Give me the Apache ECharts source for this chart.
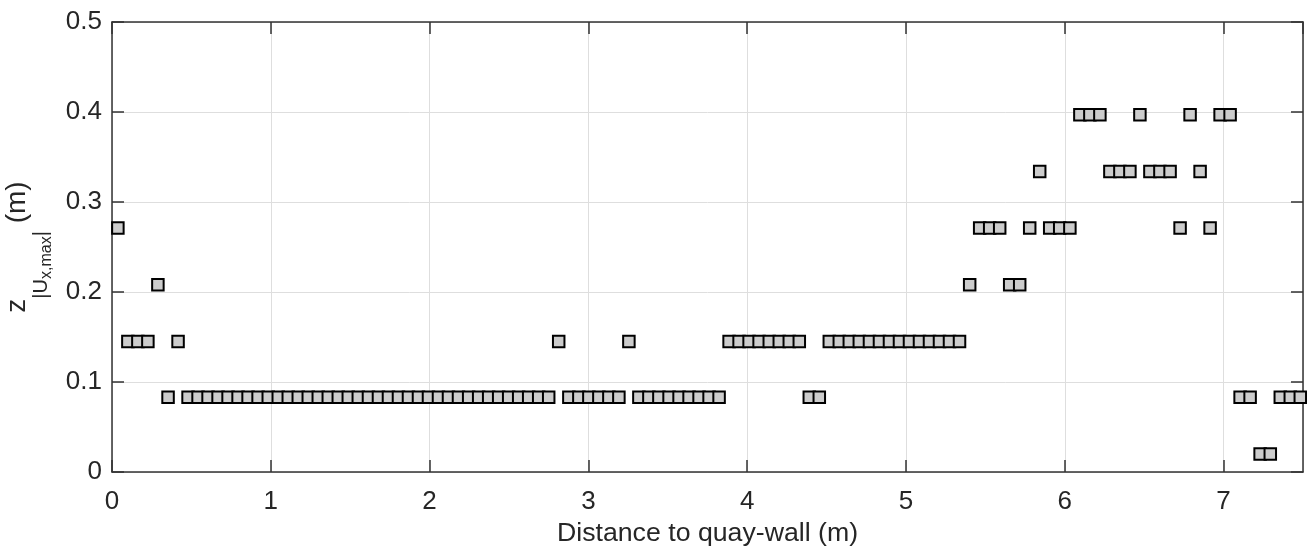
<!DOCTYPE html>
<html>
<head>
<meta charset="utf-8">
<script src="https://cdn.jsdelivr.net/npm/echarts@6/dist/echarts.min.js"></script>
<style>
html,body{margin:0;padding:0;background:#ffffff;}
#chart{width:1307px;height:550px;}
</style>
</head>
<body>
<div id="chart"></div>
<script>
// Distance to quay-wall (m) of each measurement position
const distance = [
  0.037, 0.100, 0.163, 0.226, 0.289, 0.353, 0.416, 0.479, 0.542, 0.605,
  0.668, 0.731, 0.794, 0.857, 0.920, 0.984, 1.047, 1.110, 1.173, 1.236,
  1.299, 1.362, 1.425, 1.488, 1.551, 1.615, 1.678, 1.741, 1.804, 1.867,
  1.930, 1.993, 2.056, 2.119, 2.182, 2.246, 2.309, 2.372, 2.435, 2.498,
  2.561, 2.624, 2.687, 2.750, 2.813, 2.877, 2.940, 3.003, 3.066, 3.129,
  3.192, 3.255, 3.318, 3.381, 3.444, 3.508, 3.571, 3.634, 3.697, 3.760,
  3.823, 3.886, 3.949, 4.012, 4.075, 4.139, 4.202, 4.265, 4.328, 4.391,
  4.454, 4.517, 4.580, 4.643, 4.706, 4.770, 4.833, 4.896, 4.959, 5.022,
  5.085, 5.148, 5.211, 5.274, 5.337, 5.401, 5.464, 5.527, 5.590, 5.653,
  5.716, 5.779, 5.842, 5.905, 5.968, 6.032, 6.095, 6.158, 6.221, 6.284,
  6.347, 6.410, 6.473, 6.536, 6.599, 6.663, 6.726, 6.789, 6.852, 6.915,
  6.978, 7.041, 7.104, 7.167, 7.230, 7.294, 7.357, 7.420, 7.483
];

// Elevation of the maximum |Ux| (m) at each position
const zUxMax = [
  0.271, 0.145, 0.145, 0.145, 0.208, 0.083, 0.145, 0.083, 0.083, 0.083,
  0.083, 0.083, 0.083, 0.083, 0.083, 0.083, 0.083, 0.083, 0.083, 0.083,
  0.083, 0.083, 0.083, 0.083, 0.083, 0.083, 0.083, 0.083, 0.083, 0.083,
  0.083, 0.083, 0.083, 0.083, 0.083, 0.083, 0.083, 0.083, 0.083, 0.083,
  0.083, 0.083, 0.083, 0.083, 0.145, 0.083, 0.083, 0.083, 0.083, 0.083,
  0.083, 0.145, 0.083, 0.083, 0.083, 0.083, 0.083, 0.083, 0.083, 0.083,
  0.083, 0.145, 0.145, 0.145, 0.145, 0.145, 0.145, 0.145, 0.145, 0.083,
  0.083, 0.145, 0.145, 0.145, 0.145, 0.145, 0.145, 0.145, 0.145, 0.145,
  0.145, 0.145, 0.145, 0.145, 0.145, 0.208, 0.271, 0.271, 0.271, 0.208,
  0.208, 0.271, 0.334, 0.271, 0.271, 0.271, 0.397, 0.397, 0.397, 0.334,
  0.334, 0.334, 0.397, 0.334, 0.334, 0.334, 0.271, 0.397, 0.334, 0.271,
  0.397, 0.397, 0.083, 0.083, 0.020, 0.020, 0.083, 0.083, 0.083
];

const xAxisRange = [0, 7.5];
const yAxisRange = [0, 0.5];
const xTickStep = 1;
const yTickStep = 0.1;
const xAxisTitle = 'Distance to quay-wall (m)';

const points = distance.map((d, i) => [d, zUxMax[i]]);

const FONT = "'Liberation Sans', Arial, Helvetica, sans-serif";
const AXIS_COLOR = '#333333';
const TEXT_COLOR = '#262626';

const chart = echarts.init(document.getElementById('chart'), null, {renderer: 'canvas'});

const frameAxis = {
  axisLine: {show: true, onZero: false, lineStyle: {color: AXIS_COLOR, width: 1.5}},
  axisTick: {show: true, inside: true, length: 12, lineStyle: {color: AXIS_COLOR, width: 1.5}},
  axisLabel: {show: false},
  splitLine: {show: false}
};

chart.setOption({
  animation: false,
  backgroundColor: '#ffffff',
  grid: {left: 112, right: 4, top: 22, bottom: 78, containLabel: false, outerBoundsMode: 'none'},
  xAxis: [
    {
      type: 'value', position: 'bottom',
      min: xAxisRange[0], max: xAxisRange[1], interval: xTickStep,
      name: xAxisTitle, nameLocation: 'middle', nameGap: 45,
      nameTextStyle: {fontFamily: FONT, fontSize: 26.7, color: TEXT_COLOR},
      axisLine: {show: true, onZero: false, lineStyle: {color: AXIS_COLOR, width: 1.5}},
      axisTick: {show: true, inside: true, length: 12, lineStyle: {color: AXIS_COLOR, width: 1.5}},
      axisLabel: {fontFamily: FONT, fontSize: 26, color: TEXT_COLOR, margin: 17, showMaxLabel: false,
        formatter: v => (Math.abs(v - Math.round(v)) < 1e-9 ? String(Math.round(v)) : '')},
      splitLine: {show: true, lineStyle: {color: '#dedede', width: 1}}
    },
    Object.assign({type: 'value', position: 'top', min: xAxisRange[0], max: xAxisRange[1], interval: xTickStep}, frameAxis)
  ],
  yAxis: [
    {
      type: 'value', position: 'left',
      min: yAxisRange[0], max: yAxisRange[1], interval: yTickStep,
      name: '{z|z}{u||U}{s|x,max}{u||}{m| (m)}',
      nameLocation: 'middle', nameRotate: 90, nameGap: 54,
      nameTextStyle: {
        fontFamily: FONT, fontSize: 28, color: TEXT_COLOR,
        rich: {
          z: {fontFamily: FONT, fontSize: 28, color: TEXT_COLOR, verticalAlign: 'middle'},
          u: {fontFamily: FONT, fontSize: 20, color: TEXT_COLOR, verticalAlign: 'middle', padding: [50, 0, 0, 0]},
          s: {fontFamily: FONT, fontSize: 16, color: TEXT_COLOR, verticalAlign: 'middle', padding: [60, 0, 0, 0]},
          m: {fontFamily: FONT, fontSize: 28, color: TEXT_COLOR, verticalAlign: 'middle'}
        }
      },
      axisLine: {show: true, onZero: false, lineStyle: {color: AXIS_COLOR, width: 1.5}},
      axisTick: {show: true, inside: true, length: 12, lineStyle: {color: AXIS_COLOR, width: 1.5}},
      axisLabel: {fontFamily: FONT, fontSize: 26, color: TEXT_COLOR, margin: 10},
      splitLine: {show: true, lineStyle: {color: '#dedede', width: 1}}
    },
    Object.assign({type: 'value', position: 'right', min: yAxisRange[0], max: yAxisRange[1], interval: yTickStep}, frameAxis)
  ],
  series: [{
    type: 'scatter',
    xAxisIndex: 0, yAxisIndex: 0,
    data: points,
    symbol: 'rect',
    symbolSize: 11.5,
    itemStyle: {color: '#cccccc', borderColor: '#000000', borderWidth: 2, opacity: 1},
    emphasis: {disabled: true},
    clip: false,
    z: 3
  }]
});
</script>
</body>
</html>
